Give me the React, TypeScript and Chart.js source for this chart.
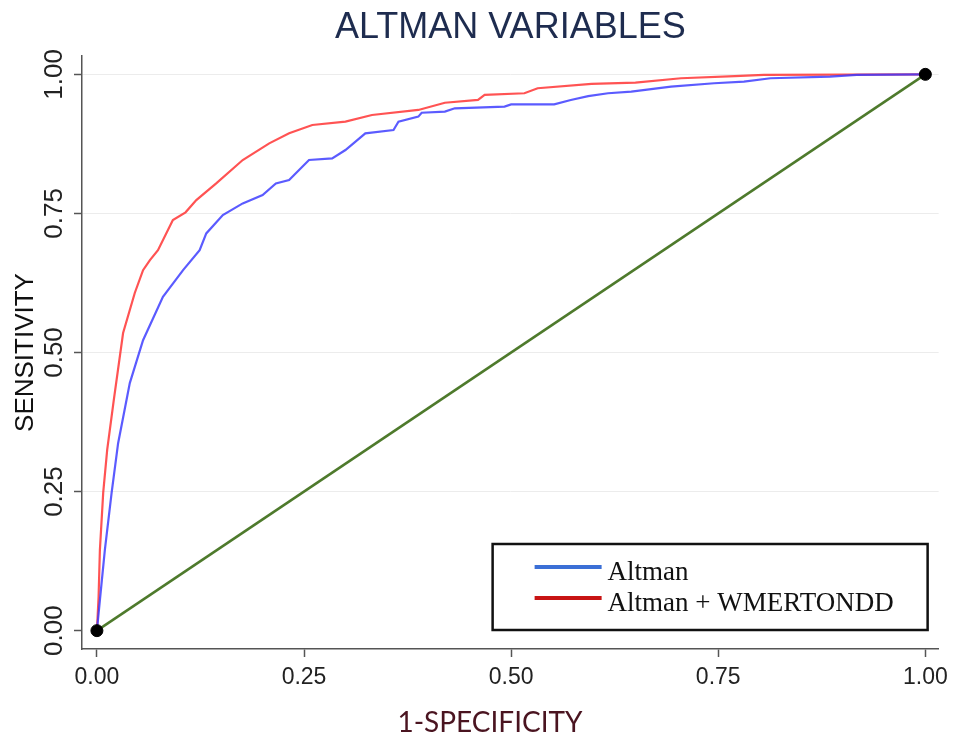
import { useEffect, useRef } from "react";
import { Chart, registerables } from "chart.js";

Chart.register(...registerables);

// ---- text ----
const chartTitle = "ALTMAN VARIABLES";
const xAxisTitle = "1-SPECIFICITY";
const yAxisTitle = "SENSITIVITY";
const seriesLabels = ["Altman", "Altman + WMERTONDD"];
const tickValues = [0, 0.25, 0.5, 0.75, 1];

// ---- data: ROC curves (1-specificity, sensitivity) ----
const altmanFpr = [
  0, 0.0036, 0.0096, 0.0177, 0.0256, 0.0397, 0.0557, 0.0797, 0.104, 0.124,
  0.132, 0.152, 0.176, 0.2, 0.216, 0.232, 0.256, 0.284, 0.3, 0.324, 0.358,
  0.364, 0.388, 0.392, 0.42, 0.432, 0.492, 0.5, 0.552, 0.572, 0.593, 0.617,
  0.645, 0.693, 0.745, 0.781, 0.813, 0.885, 0.917, 1.0,
];
const altmanTpr = [
  0, 0.055, 0.145, 0.247, 0.337, 0.445, 0.522, 0.6, 0.648, 0.684, 0.714,
  0.747, 0.768, 0.783, 0.804, 0.81, 0.846, 0.849, 0.864, 0.894, 0.9, 0.915,
  0.924, 0.931, 0.933, 0.939, 0.942, 0.946, 0.946, 0.954, 0.961, 0.966,
  0.969, 0.978, 0.984, 0.987, 0.993, 0.996, 0.999, 1.0,
];
const combinedFpr = [
  0, 0.002, 0.0036, 0.0076, 0.0124, 0.0204, 0.0316, 0.0457, 0.0557, 0.064,
  0.0737, 0.0917, 0.107, 0.12, 0.144, 0.176, 0.208, 0.232, 0.26, 0.3, 0.332,
  0.388, 0.42, 0.46, 0.468, 0.516, 0.532, 0.597, 0.65, 0.705, 0.77, 0.805,
  1.0,
];
const combinedTpr = [
  0, 0.06, 0.145, 0.248, 0.325, 0.415, 0.535, 0.607, 0.648, 0.666, 0.684,
  0.738, 0.752, 0.774, 0.804, 0.846, 0.876, 0.894, 0.909, 0.915, 0.927,
  0.936, 0.949, 0.954, 0.963, 0.966, 0.975, 0.983, 0.985, 0.993, 0.997,
  0.999, 1.0,
];
const referenceFpr = [0, 1];
const referenceTpr = [0, 1];
const endpointFpr = [0, 1];
const endpointTpr = [0, 1];

const toPoints = (xs: number[], ys: number[]) =>
  xs.map((x, i) => ({ x, y: ys[i] }));

const SANS = '"Liberation Sans", Arial, Helvetica, sans-serif';

const legendBoxPlugin = {
  id: "legendBox",
  afterDraw(chart: any) {
    const { ctx, chartArea } = chart;
    const items = chart.data.datasets.filter((d: any) => d.legendColor);
    const w = 435;
    const h = 86;
    const left = chartArea.right - 446;
    const top = chartArea.bottom - 105;
    ctx.save();
    ctx.fillStyle = "#ffffff";
    ctx.fillRect(left, top, w, h);
    ctx.strokeStyle = "#111111";
    ctx.lineWidth = 2.5;
    ctx.strokeRect(left, top, w, h);
    ctx.font = '27px "Liberation Serif", "Times New Roman", serif';
    ctx.textAlign = "left";
    ctx.textBaseline = "alphabetic";
    items.forEach((d: any, i: number) => {
      const ly = top + 23 + i * 31;
      ctx.strokeStyle = d.legendColor;
      ctx.lineWidth = 4;
      ctx.beginPath();
      ctx.moveTo(left + 42, ly);
      ctx.lineTo(left + 109, ly);
      ctx.stroke();
      ctx.fillStyle = "#111111";
      ctx.fillText(d.label, left + 115, ly + 13);
    });
    ctx.restore();
  },
};

const xTitlePlugin = {
  id: "xTitle",
  afterDraw(chart: any) {
    const { ctx, chartArea } = chart;
    ctx.save();
    ctx.font = '28px Lato, "Open Sans", sans-serif';
    ctx.fillStyle = "#4a1420";
    ctx.textAlign = "center";
    ctx.textBaseline = "middle";
    ctx.fillText(xAxisTitle, chartArea.left + 408, chartArea.bottom + 74);
    ctx.restore();
  },
};

export default function App() {
  const canvasRef = useRef<HTMLCanvasElement | null>(null);

  useEffect(() => {
    if (!canvasRef.current) return;
    const fixedTicks = (s: any) => {
      s.ticks = tickValues.map((v) => ({ value: v }));
    };
    const chart = new Chart(canvasRef.current, {
      type: "scatter",
      data: {
        datasets: [
          {
            label: "endpoints",
            data: toPoints(endpointFpr, endpointTpr),
            pointRadius: 6,
            pointBackgroundColor: "#000000",
            pointBorderColor: "#000000",
            showLine: false,
          },
          {
            label: "reference",
            data: toPoints(referenceFpr, referenceTpr),
            borderColor: "#4e7a2c",
            borderWidth: 2.5,
            pointRadius: 0,
            showLine: true,
          },
          {
            label: seriesLabels[0],
            data: toPoints(altmanFpr, altmanTpr),
            borderColor: "rgba(55,55,255,0.82)",
            borderWidth: 2.2,
            pointRadius: 0,
            showLine: true,
            legendColor: "#3b6fd6",
          } as any,
          {
            label: seriesLabels[1],
            data: toPoints(combinedFpr, combinedTpr),
            borderColor: "rgba(255,45,45,0.82)",
            borderWidth: 2.2,
            pointRadius: 0,
            showLine: true,
            legendColor: "#c81414",
          } as any,
        ],
      },
      options: {
        animation: false,
        responsive: true,
        maintainAspectRatio: false,
        events: [],
        layout: { padding: { left: 0, top: 0, right: 13, bottom: 0 } },
        plugins: {
          legend: { display: false },
          tooltip: { enabled: false },
          title: {
            display: true,
            fullSize: false,
            text: chartTitle,
            color: "#1e2c4f",
            font: { family: SANS, size: 36, weight: "normal" },
            padding: { top: 6, bottom: 6.8 },
          },
        },
        scales: {
          x: {
            type: "linear",
            min: -0.018,
            max: 1.016,
            afterBuildTicks: fixedTicks,
            afterFit: (s: any) => {
              s.height = 88;
            },
            grid: {
              drawOnChartArea: false,
              drawTicks: true,
              tickLength: 8,
              tickColor: "#555555",
              tickWidth: 1.5,
            },
            border: { display: true, color: "#555555", width: 1.5 },
            ticks: {
              autoSkip: false,
              maxRotation: 0,
              padding: 7,
              color: "#222222",
              font: { family: SANS, size: 23 },
              callback: (v: any) => Number(v).toFixed(2),
            },
          },
          y: {
            type: "linear",
            min: -0.033,
            max: 1.033,
            afterBuildTicks: fixedTicks,
            afterFit: (s: any) => {
              s.width = 82;
            },
            grid: {
              color: (c: any) =>
                c.tick && c.tick.value === 0 ? "rgba(0,0,0,0)" : "#ececec",
              lineWidth: 1,
              drawTicks: true,
              tickLength: 8,
              tickColor: "#555555",
              tickWidth: 1.5,
            },
            border: { display: true, color: "#555555", width: 1.5 },
            ticks: {
              autoSkip: false,
              minRotation: 90,
              maxRotation: 90,
              crossAlign: "center",
              padding: -6,
              color: "#222222",
              font: { family: SANS, size: 26 },
              callback: (v: any) => Number(v).toFixed(2),
            },
            title: {
              display: true,
              text: yAxisTitle,
              color: "#111111",
              font: { family: SANS, size: 26 },
              padding: { top: 10, bottom: 0 },
            },
          },
        },
      } as any,
      plugins: [legendBoxPlugin, xTitlePlugin],
    });
    return () => chart.destroy();
  }, []);

  return (
    <div
      style={{
        position: "absolute",
        left: 0,
        top: 0,
        width: 955,
        height: 737,
        background: "#ffffff",
      }}
    >
      <canvas ref={canvasRef} />
    </div>
  );
}
